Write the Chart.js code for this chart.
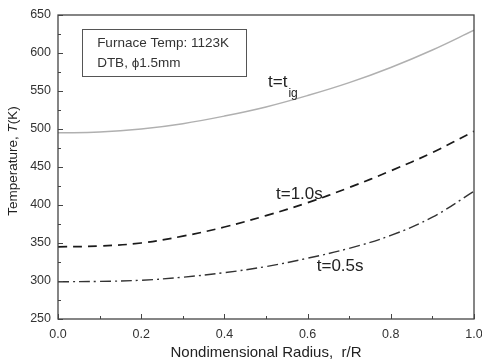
<!DOCTYPE html>
<html>
<head>
<meta charset="utf-8">
<script src="https://cdn.jsdelivr.net/npm/chart.js@4.4.0/dist/chart.umd.min.js"></script>
<style>
  html, body { margin: 0; padding: 0; background: #fff; }
  #wrap { width: 482px; height: 362px; }
</style>
</head>
<body>
<div id="wrap"><canvas id="chart"></canvas></div>
<script>
const radius = [0, 0.1, 0.2, 0.3, 0.4, 0.5, 0.6, 0.7, 0.8, 0.9, 1.0];
const tempIgnition = [495, 496, 500, 507, 517, 529, 544, 561, 581, 604, 630];
const temp10s = [345, 346, 350, 359, 371, 386, 403, 423, 445, 469, 497];
const temp05s = [299, 299.5, 301, 305, 311, 319, 330, 343, 360, 384, 418];

const yTicks = [250, 300, 350, 400, 450, 500, 550, 600, 650];
const xTicks = [0, 0.2, 0.4, 0.6, 0.8, 1.0];

const font = 'Liberation Sans, Arial, sans-serif';
const ctx = document.getElementById('chart').getContext('2d');

function toPoints(values) {
    return radius.map((r, i) => ({ x: r, y: values[i] }));
}

// frame, inward ticks, note box, curve labels and y title
const decorations = {
    id: 'decorations',
    afterDraw(chart) {
        const c = chart.ctx;
        const area = chart.chartArea;
        const xs = chart.scales.x;
        const ys = chart.scales.y;
        c.save();

        c.strokeStyle = '#444';
        c.lineWidth = 1.3;
        c.strokeRect(area.left, area.top, area.right - area.left, area.bottom - area.top);

        c.lineWidth = 1;
        c.beginPath();
        for (let v = 250; v <= 650; v += 25) {
            const py = Math.round(ys.getPixelForValue(v)) + 0.5;
            const len = v % 50 === 0 ? 5 : 3;
            c.moveTo(area.left, py);
            c.lineTo(area.left + len, py);
        }
        for (let i = 0; i <= 10; i++) {
            const px = Math.round(xs.getPixelForValue(i / 10)) + 0.5;
            const len = i % 2 === 0 ? 5 : 3;
            c.moveTo(px, area.bottom);
            c.lineTo(px, area.bottom - len);
        }
        c.stroke();

        // note box
        const bx1 = xs.getPixelForValue(0.058), bx2 = xs.getPixelForValue(0.452);
        const by1 = ys.getPixelForValue(631.5), by2 = ys.getPixelForValue(570);
        c.strokeStyle = '#555';
        c.lineWidth = 1;
        c.strokeRect(Math.round(bx1) + 0.5, Math.round(by1) + 0.5, Math.round(bx2 - bx1), Math.round(by2 - by1));
        c.fillStyle = '#333';
        c.font = '13.5px ' + font;
        c.textBaseline = 'middle';
        c.textAlign = 'left';
        c.fillText('Furnace Temp: 1123K', bx1 + 15, by1 + 14);
        c.fillText('DTB, \u03D51.5mm', bx1 + 15, by1 + 34.5);

        // curve labels
        c.font = '17px ' + font;
        c.fillStyle = '#222';
        const lx = xs.getPixelForValue(0.505), ly = ys.getPixelForValue(562);
        c.fillText('t=t', lx, ly);
        const w = c.measureText('t=t').width;
        c.font = '12px ' + font;
        c.fillText('ig', lx + w + 1, ly + 12);
        c.font = '17px ' + font;
        c.fillText('t=1.0s', xs.getPixelForValue(0.524), ys.getPixelForValue(414));
        c.fillText('t=0.5s', xs.getPixelForValue(0.622), ys.getPixelForValue(319));

        // y axis title with italic T
        c.translate(13, 161);
        c.rotate(-Math.PI / 2);
        c.fillStyle = '#222';
        const p1 = 'Temperature, ', p3 = '(K)';
        c.font = '13.5px ' + font;
        const w1 = c.measureText(p1).width;
        const w3 = c.measureText(p3).width;
        c.font = 'italic 13.5px ' + font;
        const w2 = c.measureText('T').width;
        const sx = -(w1 + w2 + w3) / 2;
        c.font = '13.5px ' + font;
        c.fillText(p1, sx, 0);
        c.font = 'italic 13.5px ' + font;
        c.fillText('T', sx + w1, 0);
        c.font = '13.5px ' + font;
        c.fillText(p3, sx + w1 + w2, 0);
        c.restore();
    }
};

new Chart(ctx, {
    type: 'line',
    data: {
        datasets: [
            {
                label: 't=tig',
                data: toPoints(tempIgnition),
                borderColor: '#b0b0b0',
                borderWidth: 1.5,
                pointRadius: 0,
                tension: 0.4
            },
            {
                label: 't=1.0s',
                data: toPoints(temp10s),
                borderColor: '#1a1a1a',
                borderWidth: 1.7,
                borderDash: [9, 6],
                pointRadius: 0,
                tension: 0.4
            },
            {
                label: 't=0.5s',
                data: toPoints(temp05s),
                borderColor: '#333',
                borderWidth: 1.4,
                borderDash: [11, 4, 2, 4],
                pointRadius: 0,
                tension: 0.4
            }
        ]
    },
    options: {
        responsive: true,
        maintainAspectRatio: false,
        animation: false,
        layout: { padding: { top: 15, right: 8, left: 0, bottom: 0 } },
        plugins: {
            legend: { display: false },
            tooltip: { enabled: false }
        },
        scales: {
            x: {
                type: 'linear',
                min: 0,
                max: 1,
                afterFit: scale => {
                    scale.height = 43;
                    scale.paddingLeft = 0;
                    scale.paddingRight = 0;
                },
                afterBuildTicks: scale => { scale.ticks = xTicks.map(v => ({ value: v })); },
                grid: { display: false, drawTicks: false },
                border: { display: false },
                ticks: {
                    color: '#333',
                    font: { family: font, size: 12.5 },
                    padding: 8,
                    maxRotation: 0,
                    callback: v => v.toFixed(1)
                },
                title: {
                    display: true,
                    text: 'Nondimensional Radius,  r/R',
                    color: '#222',
                    font: { family: font, size: 15 },
                    padding: { top: 0, bottom: 0 }
                }
            },
            y: {
                min: 250,
                max: 650,
                afterFit: scale => {
                    scale.width = 58;
                    scale.paddingTop = 0;
                    scale.paddingBottom = 0;
                },
                afterBuildTicks: scale => { scale.ticks = yTicks.map(v => ({ value: v })); },
                grid: { display: false, drawTicks: false },
                border: { display: false },
                ticks: {
                    color: '#333',
                    font: { family: font, size: 12.5 },
                    padding: 7
                }
            }
        }
    },
    plugins: [decorations]
});
</script>
</body>
</html>
